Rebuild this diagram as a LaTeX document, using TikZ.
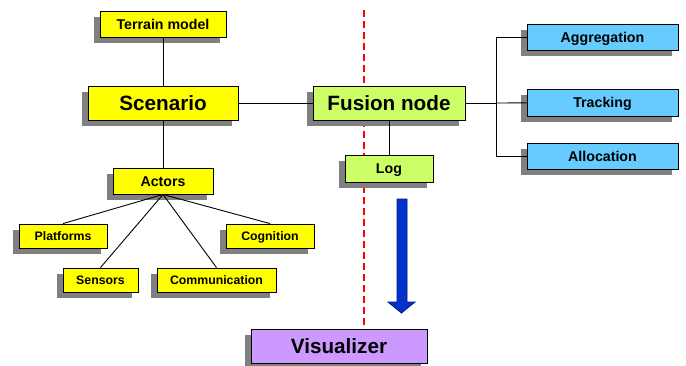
\documentclass[tikz,border=0pt]{standalone}
\usepackage{fontspec}
\setmainfont{Liberation Sans}
\usetikzlibrary{shadows}
\definecolor{boxyellow}{HTML}{FFFF00}
\definecolor{boxgreen}{HTML}{CCFF66}
\definecolor{boxblue}{HTML}{66CCFF}
\definecolor{boxviolet}{HTML}{CC99FF}
\definecolor{shadowgray}{HTML}{808080}
\definecolor{arrowblue}{HTML}{0033CC}
\definecolor{arrowedge}{HTML}{001A80}
\tikzset{
  box/.style={draw=black, line width=0.9pt, inner sep=0pt, font=\bfseries,
    text depth=0pt,
    drop shadow={shadow xshift=-6pt, shadow yshift=-6pt, opacity=1, fill=shadowgray}},
  big/.style={box, minimum height=34pt, text height=14.9pt, font=\bfseries\fontsize{20.7}{24}\selectfont},
  mid/.style={box, minimum height=26pt, text height=10.2pt, font=\bfseries\fontsize{14.2}{17}\selectfont},
  small/.style={box, minimum height=24pt, text height=8.9pt, font=\bfseries\fontsize{12.3}{15}\selectfont},
}
\begin{document}
\begin{tikzpicture}[x=1pt,y=-1pt]
      \useasboundingbox (0,0) rectangle (686,365);
      \coordinate (cuttop) at (364,10);
      \coordinate (cutbottom) at (364,325);
      \draw[red, line width=2pt, dash pattern=on 7pt off 4pt] (cuttop) -- (cutbottom);
      \draw
        (163,24) node[mid, fill=boxyellow, minimum width=126pt] (terrain){Terrain model}
        (163,103) node[big, fill=boxyellow, minimum width=150pt] (scenario){Scenario}
        (163,181) node[mid, fill=boxyellow, minimum width=100pt] (actors){Actors}
        (63,236) node[small, fill=boxyellow, minimum width=88pt] (platforms){Platforms}
        (270,236) node[small, fill=boxyellow, minimum width=88pt] (cognition){Cognition}
        (100.5,280) node[small, fill=boxyellow, minimum width=75pt] (sensors){Sensors}
        (216.5,280) node[small, fill=boxyellow, minimum width=119pt] (communication){Communication}
        (389,103) node[big, fill=boxgreen, minimum width=152pt] (fusion){Fusion node}
        (389,168.5) node[mid, fill=boxgreen, minimum width=88pt, minimum height=27pt] (log){Log}
        (602.5,37) node[mid, fill=boxblue, minimum width=151pt] (aggregation){Aggregation}
        (602.5,102.5) node[mid, fill=boxblue, minimum width=151pt, minimum height=27pt] (tracking){Tracking}
        (602.5,156) node[mid, fill=boxblue, minimum width=151pt] (allocation){Allocation}
        (339,346) node[big, fill=boxviolet, minimum width=176pt] (visualizer){Visualizer};
      \coordinate (branch) at (496,103);
      \begin{scope}[-, line width=0.9pt]
        \draw (terrain) to (scenario);
        \draw (scenario) to (actors);
        \draw (scenario) to (fusion);
        \draw (actors.south) to (platforms.north);
        \draw (actors.south) to (sensors.north);
        \draw (actors.south) to (communication.north);
        \draw (actors.south) to (cognition.north);
        \draw (fusion) to (log);
        \draw (fusion) to (branch);
        \draw (branch) |- (aggregation);
        \draw (branch) to (tracking);
        \draw (branch) |- (allocation);
      \end{scope}
      \draw[fill=arrowblue, draw=arrowedge, line width=0.8pt]
        (397,199) -- (407,199) -- (407,302) -- (415,302) -- (401.5,313)
        -- (388,302) -- (397,302) -- cycle;
    \end{tikzpicture}
\end{document}
